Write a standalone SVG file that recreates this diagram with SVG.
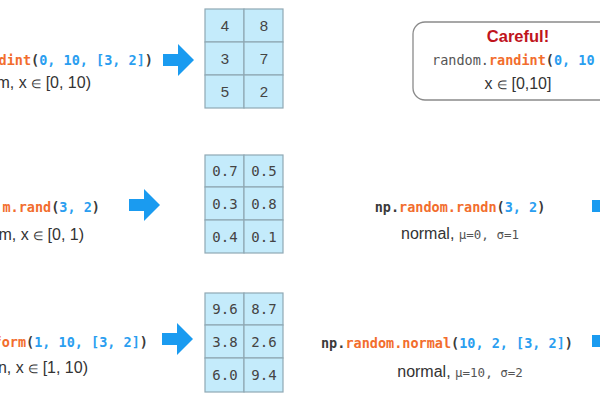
<svg xmlns="http://www.w3.org/2000/svg" width="600" height="400" viewBox="0 0 600 400">
<style>
.code{font-family:"DejaVu Sans Mono","Liberation Mono",monospace;font-size:13.5px;font-weight:bold;fill:#3a3a3a}
.o{fill:#f26d2d}.b{fill:#2a9ef0}
.desc{font-family:"Liberation Sans",Arial,sans-serif;font-size:16px;fill:#333}
.sm{font-family:"DejaVu Sans Mono",monospace;font-size:12.5px;fill:#555}
.cell{fill:#c4ebfb;stroke:#8fa8b4;stroke-width:1.2}
.num{font-family:"Liberation Sans",Arial,sans-serif;font-size:15px;fill:#444;text-anchor:middle}
.mnum{font-family:"DejaVu Sans Mono",monospace;font-size:14px;fill:#444;text-anchor:middle}
.arr{fill:#1a9bf0}
</style>
<defs>
<path id="arrow" d="M0,-6 H15 V-16 L31,0 L15,16 V6 H0 Z"/>
</defs>

<g id="randint-left">
<text class="code" x="153" y="65" text-anchor="end"><tspan class="o">dint</tspan>(<tspan class="b">0, 10, [3, 2]</tspan>)</text>
<text class="desc" x="91" y="88" text-anchor="end">m, x <tspan font-size="12">∈</tspan> [0, 10)</text>
</g>
<g id="grid1">
<rect class="cell" x="205" y="9" width="39" height="33"/><rect class="cell" x="244" y="9" width="39" height="33"/>
<rect class="cell" x="205" y="42" width="39" height="33"/><rect class="cell" x="244" y="42" width="39" height="33"/>
<rect class="cell" x="205" y="75" width="39" height="33"/><rect class="cell" x="244" y="75" width="39" height="33"/>
<text class="num" x="225" y="31">4</text><text class="num" x="264" y="31">8</text>
<text class="num" x="225" y="64">3</text><text class="num" x="264" y="64">7</text>
<text class="num" x="225" y="97">5</text><text class="num" x="264" y="97">2</text>
</g>
<g id="careful">
<rect x="413" y="22" width="210" height="78" rx="12" fill="#fff" stroke="#8a8a8a" stroke-width="1.3"/>
<text x="518" y="42" text-anchor="middle" font-family="Liberation Sans,Arial,sans-serif" font-size="16.5" font-weight="bold" fill="#c0141c">Careful!</text>
<text class="code" x="432" y="65"><tspan font-weight="normal" fill="#555">random.</tspan><tspan class="o">randint</tspan>(<tspan class="b">0, 10</tspan></text>
<text class="desc" x="518" y="89" text-anchor="middle">x <tspan font-size="12">∈</tspan> [0,10]</text>
</g>

<g id="rand-left">
<text class="code" x="100" y="212" text-anchor="end"><tspan class="o">m.rand</tspan>(<tspan class="b">3, 2</tspan>)</text>
<text class="desc" x="84" y="240" text-anchor="end">m, x <tspan font-size="12">∈</tspan> [0, 1)</text>
</g>
<g id="grid2">
<rect class="cell" x="205" y="155" width="39" height="32"/><rect class="cell" x="244" y="155" width="39" height="32"/>
<rect class="cell" x="205" y="187" width="39" height="33"/><rect class="cell" x="244" y="187" width="39" height="33"/>
<rect class="cell" x="205" y="220" width="39" height="33"/><rect class="cell" x="244" y="220" width="39" height="33"/>
<text class="mnum" x="225" y="176">0.7</text><text class="mnum" x="264" y="176">0.5</text>
<text class="mnum" x="225" y="209">0.3</text><text class="mnum" x="264" y="209">0.8</text>
<text class="mnum" x="225" y="242">0.4</text><text class="mnum" x="264" y="242">0.1</text>
</g>
<g id="randn">
<text class="code" x="460" y="212" text-anchor="middle">np.<tspan class="o">random.randn</tspan>(<tspan class="b">3, 2</tspan>)</text>
<text class="desc" x="460" y="239" text-anchor="middle">normal, <tspan class="sm">μ=0,  σ=1</tspan></text>
</g>

<g id="uniform-left">
<text class="code" x="148" y="347" text-anchor="end"><tspan class="o">form</tspan>(<tspan class="b">1, 10, [3, 2]</tspan>)</text>
<text class="desc" x="88" y="373" text-anchor="end">n, x <tspan font-size="12">∈</tspan> [1, 10)</text>
</g>
<g id="grid3">
<rect class="cell" x="205" y="293" width="39" height="32"/><rect class="cell" x="244" y="293" width="39" height="32"/>
<rect class="cell" x="205" y="325" width="39" height="33"/><rect class="cell" x="244" y="325" width="39" height="33"/>
<rect class="cell" x="205" y="358" width="39" height="34"/><rect class="cell" x="244" y="358" width="39" height="34"/>
<text class="mnum" x="225" y="314">9.6</text><text class="mnum" x="264" y="314">8.7</text>
<text class="mnum" x="225" y="347">3.8</text><text class="mnum" x="264" y="347">2.6</text>
<text class="mnum" x="225" y="380">6.0</text><text class="mnum" x="264" y="380">9.4</text>
</g>
<g id="normal">
<text class="code" x="447" y="348" text-anchor="middle">np.<tspan class="o">random.normal</tspan>(<tspan class="b">10, 2, [3, 2]</tspan>)</text>
<text class="desc" x="460" y="377" text-anchor="middle">normal, <tspan class="sm">μ=10,  σ=2</tspan></text>
</g>

<g id="connectors">
<use href="#arrow" class="arr" x="163" y="60"/>
<use href="#arrow" class="arr" x="129" y="205"/>
<use href="#arrow" class="arr" x="162" y="339"/>
<use href="#arrow" class="arr" x="592" y="206"/>
<use href="#arrow" class="arr" x="592" y="341"/>
</g>
</svg>
